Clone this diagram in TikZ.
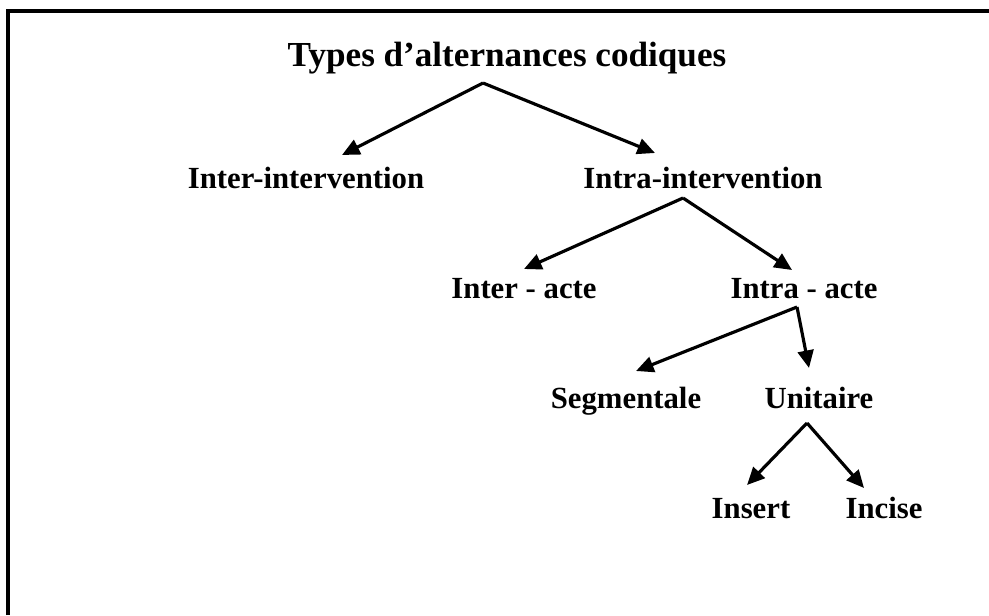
\documentclass[tikz,border=0pt]{standalone}
\usepackage{fontspec}
\setmainfont{Liberation Serif}
\usetikzlibrary{arrows.meta,calc}
\begin{document}
\begin{tikzpicture}[x=0.02cm,y=-0.02cm]
\tikzstyle{every node} = [inner sep=0,anchor=base,font=\fontsize{17.5}{20}\selectfont\bfseries];
\tikzstyle{fleche} = [line width=1.8pt,-{Triangle[length=10pt,width=9pt]}];
\useasboundingbox (0,0) rectangle (989,615);
\draw [line width=1.8pt] (8,615) -- (8,11) -- (989,11);
\node [font=\fontsize{20}{24}\selectfont\bfseries] (t) at (507,67) {Types d’alternances codiques};
\node (a1) at (306,188) {Inter-intervention};
\node (a2) at (703,188) {Intra-intervention};
\node (b1) at (524,298) {Inter - acte};
\node (b2) at (804,298) {Intra - acte};
\node (c1) at (626,408) {Segmentale};
\node (c2) at (819,408) {Unitaire};
\node (d1) at (751,518) {Insert};
\node (d2) at (884,518) {Incise};
\foreach \p/\px/\py/\c/\cx/\cy in {t/-24/16/a1/36/-33, t/-24/16/a2/-48/-35,
	a2/-20/10/b1/0/-29, a2/-20/10/b2/-12/-28,
	b2/-7/9/c1/10/-37, b2/-7/9/c2/-10/-40,
	c2/-12/15/d1/-4/-33, c2/-12/15/d2/-20/-30}{
	\draw [fleche] ($(\p.base)+(\px,\py)$) -- ($(\c.base)+(\cx,\cy)$);
}
\end{tikzpicture}
\end{document}
